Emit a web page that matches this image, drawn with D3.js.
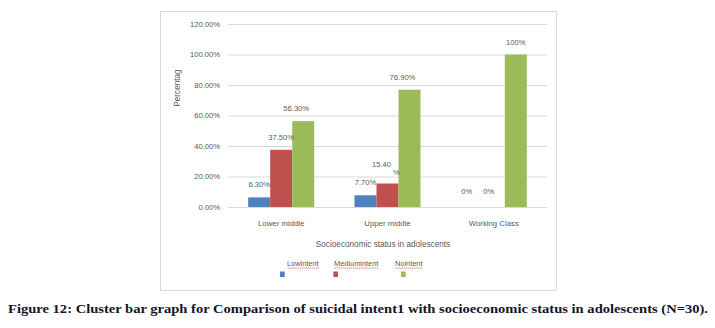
<!DOCTYPE html>
<html><head><meta charset="utf-8">
<script src="https://cdn.jsdelivr.net/npm/d3@7"></script>
<style>body{margin:0;background:#fff}svg{display:block}</style>
</head><body>
<script>
const categories = ["Lower middle", "Upper middle", "Working Class"];
const seriesNames = ["Lowintent", "Mediumintent", "Nointent"];
const lowIntent = [6.3, 7.7, 0];
const mediumIntent = [37.5, 15.4, 0];
const noIntent = [56.3, 76.9, 100];
const lowLabels = ["6.30%", "7.70%", "0%"];
const mediumLabels = ["37.50%", "15.40 %", "0%"];
const noLabels = ["56.30%", "76.90%", "100%"];
const yTicks = [0, 20, 40, 60, 80, 100, 120];
const xTitle = "Socioeconomic status in adolescents";
const yTitle = "Percentag";
const caption = "Figure 12: Cluster bar graph for Comparison of suicidal intent1 with socioeconomic status in adolescents (N=30).";

const colors = ["#4f81bd", "#c0504d", "#9bbb59"];
const values = [lowIntent, mediumIntent, noIntent];
const labels = [lowLabels, mediumLabels, noLabels];
const W = 715, H = 328;
const svg = d3.select("body").append("svg").attr("width", W).attr("height", H);
const font = "'Liberation Sans', Arial, sans-serif";
const txt = "#595959";

// chart frame
svg.append("rect").attr("x", 160.5).attr("y", 11.5).attr("width", 396).attr("height", 279)
  .attr("fill", "#fff").attr("stroke", "#d9d9d9").attr("stroke-width", 1);

const x0 = d3.scaleBand().domain(categories).range([228, 547]).paddingInner(0.379).paddingOuter(0.19);
const x1 = d3.scaleBand().domain(seriesNames).range([0, x0.bandwidth()]);
const y = d3.scaleLinear().domain([0, 120]).range([207, 24]);

// grid
const yAxis = d3.axisLeft(y).tickValues(yTicks).tickSize(-(547 - 228)).tickPadding(8)
  .tickFormat(d => d3.format(".2f")(d) + "%");
const ga = svg.append("g").attr("transform", "translate(228,0)").call(yAxis);
ga.select(".domain").remove();
ga.selectAll(".tick line").attr("stroke", "#d9d9d9").attr("stroke-width", 1);
ga.selectAll(".tick text").attr("fill", txt).attr("font-family", font).attr("font-size", 7.6);

// bars
const groups = svg.append("g").selectAll("g").data(categories).join("g")
  .attr("transform", d => `translate(${x0(d)},0)`);
seriesNames.forEach((s, si) => {
  groups.append("rect")
    .attr("x", x1(s)).attr("width", x1.bandwidth())
    .attr("y", (d, i) => y(values[si][i]))
    .attr("height", (d, i) => y(0) - y(values[si][i]))
    .attr("fill", colors[si]);
});

// data labels
seriesNames.forEach((s, si) => {
  groups.each(function(d, i) {
    const g = d3.select(this);
    const cx = x1(s) + x1.bandwidth() / 2;
    const top = y(values[si][i]);
    const lab = labels[si][i];
    const parts = lab.split(" ");
    if (parts.length > 1) {
      const t = g.append("text").attr("font-family", font).attr("font-size", 7.6).attr("fill", txt)
        .attr("text-anchor", "middle");
      t.append("tspan").attr("x", cx - 6).attr("y", top - 16.5).text(parts[0]);
      t.append("tspan").attr("x", cx + 9).attr("y", top - 9).text(parts[1]);
    } else {
      const off = values[si][i] === 0 ? 13 : 10;
      const shift = values[si][i] === 0 ? -5 : (si === 2 && values[si][i] < 100 ? -7 : 0);
      g.append("text").attr("x", cx + shift).attr("y", top - off)
        .attr("text-anchor", "middle").attr("font-family", font).attr("font-size", 7.6)
        .attr("fill", txt).text(lab);
    }
  });
});

// category labels
svg.append("g").selectAll("text").data(categories).join("text")
  .attr("x", d => x0(d) + x0.bandwidth() / 2).attr("y", 226)
  .attr("text-anchor", "middle").attr("font-family", font).attr("font-size", 7.8)
  .attr("fill", txt).text(d => d);

// axis titles
svg.append("text").attr("x", 383).attr("y", 246.5).attr("text-anchor", "middle")
  .attr("font-family", font).attr("font-size", 8.2).attr("fill", txt).text(xTitle);
svg.append("text").attr("transform", "translate(179.5,88) rotate(-90)").attr("text-anchor", "middle")
  .attr("font-family", font).attr("font-size", 8.2).attr("fill", txt).text(yTitle);

// legend
const legTextX = [287, 334, 395];
const legMarkX = [280, 333.3, 401];
seriesNames.forEach((s, i) => {
  const t = svg.append("text").attr("x", legTextX[i]).attr("y", 265.5)
    .attr("font-family", font).attr("font-size", 7.4).attr("fill", txt).text(s);
  const w = t.node().getComputedTextLength();
  let p = `M${legTextX[i]},267.5`;
  for (let k = 0, xx = legTextX[i]; xx < legTextX[i] + w; k++) {
    xx += 1.2;
    p += ` L${xx},${k % 2 ? 267.5 : 268.7}`;
  }
  svg.append("path").attr("d", p).attr("fill", "none").attr("stroke", "#d04040").attr("stroke-width", 0.5);
  svg.append("rect").attr("x", legMarkX[i]).attr("y", 271.5).attr("width", 4.7).attr("height", 5.5)
    .attr("fill", colors[i]);
});

// caption
svg.append("text").attr("x", 8).attr("y", 313).attr("font-family", "'Liberation Serif', serif")
  .attr("font-weight", "bold").attr("font-size", 12.6).attr("fill", "#14142b")
  .attr("textLength", 700).attr("lengthAdjust", "spacingAndGlyphs").text(caption);
</script>
</body></html>
